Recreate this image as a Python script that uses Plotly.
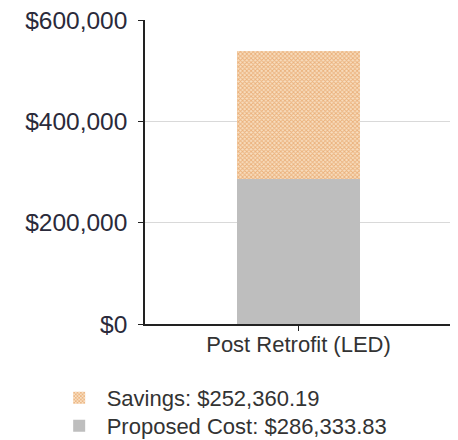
import plotly.graph_objects as go

categories = ["Post Retrofit (LED)"]
proposed_cost = [286333.83]
savings = [252360.19]
series_names = ["Proposed Cost", "Savings"]
y_ticks = [0, 200000, 400000, 600000]

fig = go.Figure()
fig.add_trace(go.Bar(
    x=categories, y=proposed_cost,
    name=f"{series_names[0]}: ${proposed_cost[0]:,.2f}",
    marker=dict(color="#BEBEBE", line=dict(width=0)),
    width=0.4, legend="legend2",
))
fig.add_trace(go.Bar(
    x=categories, y=savings,
    name=f"{series_names[1]}: ${savings[0]:,.2f}",
    marker=dict(color="#F6D9B8", line=dict(width=0),
                pattern=dict(shape="x", fgcolor="#EBB07A", bgcolor="#F8DEC0",
                             size=3, solidity=0.5, fillmode="replace")),
    width=0.4, legend="legend",
))

legend_common = dict(
    orientation="v", x=-0.304, xanchor="left", yref="container",
    yanchor="middle", font=dict(size=22, color="#333333"),
    itemwidth=45, bgcolor="rgba(0,0,0,0)",
)
fig.update_layout(
    barmode="stack",
    width=458, height=440,
    margin=dict(l=137, r=14, t=12, b=124, autoexpand=False),
    plot_bgcolor="white", paper_bgcolor="white",
    font=dict(family="Liberation Sans, Arial, sans-serif", color="#222222"),
    showlegend=True,
    legend=dict(legend_common, y=1 - 390 / 440),
    legend2=dict(legend_common, y=1 - 418 / 440),
)
fig.update_yaxes(
    range=[0, 600000], tickvals=y_ticks, tickformat="$,.0f",
    showgrid=True, gridcolor="#D9D9D9", gridwidth=1,
    showline=True, linecolor="#222222", linewidth=1.5,
    ticks="outside", ticklen=5, tickcolor="#222222",
    tickfont=dict(size=24.5, color="#2a2a3a"), zeroline=False,
    automargin=False, ticklabelstandoff=6, ticklabeloverflow="allow",
)
fig.update_xaxes(
    showline=True, linecolor="#222222", linewidth=1.5,
    ticks="outside", ticklen=5, tickcolor="#222222",
    tickfont=dict(size=22, color="#333333"), automargin=False,
    ticklabelstandoff=-5, ticklabeloverflow="allow",
)
fig.add_shape(type="line", xref="x domain", yref="y domain",
              x0=1, x1=1, y0=0, y1=-0.017,
              line=dict(color="#222222", width=1.5))

fig.write_html("out.html")
